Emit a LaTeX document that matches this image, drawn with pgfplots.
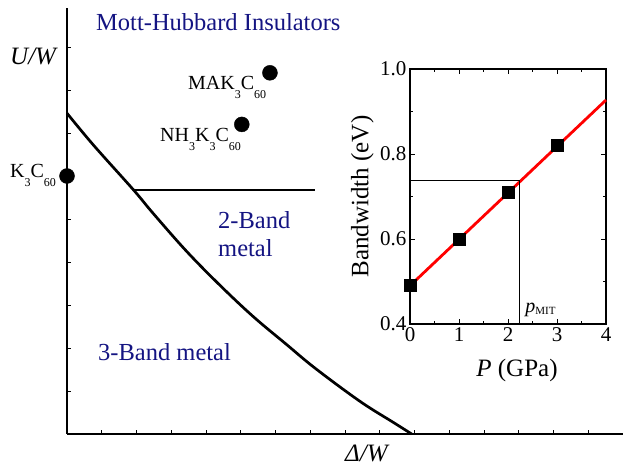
\documentclass[border=0pt]{standalone}
\usepackage{fontspec}
\setmainfont{Liberation Serif}
\usepackage{pgfplots}
\pgfplotsset{compat=1.18}
\definecolor{navyblue}{RGB}{20,20,130}
\newcommand{\ssub}[1]{\raisebox{-8.5pt}{\fontsize{12}{12}\selectfont #1}}
\begin{document}
\begin{tikzpicture}[x=1pt,y=1pt]
\useasboundingbox (0,0) rectangle (623,468);
\begin{axis}[at={(67pt,34pt)}, anchor=south west, scale only axis,
  width=556pt, height=426pt,
  xmin=0, xmax=16, ymin=0, ymax=9.907,
  axis x line*=bottom, axis y line*=left,
  xtick={0,...,16}, ytick={0,...,9},
  xticklabels={}, yticklabels={},
  tick align=inside, major tick length=3.5pt,
  tick style={line width=0.7pt, black},
  axis line style={line width=1.6pt, -},
  clip=false]
\addplot[line width=2.7pt, smooth, tension=0.6] coordinates {
 (0,7.46) (0.76,6.72) (1.91,5.68) (2.48,5.13) (3.44,4.25) (4.40,3.46)
 (5.36,2.73) (6.32,2.08) (7.14,1.53) (8.43,0.76) (9.39,0.27) (9.92,0)};
\addplot[line width=2.5pt] coordinates {(1.91,5.68) (7.14,5.68)};
\addplot[only marks, mark=*, mark size=7.5pt, black] coordinates {(0,6.0) (5.03,7.20) (5.84,8.40)};
\end{axis}
\begin{axis}[at={(410pt,144pt)}, anchor=south west, scale only axis,
  width=196pt, height=255pt,
  xmin=0, xmax=4, ymin=0.4, ymax=1.0,
  xtick={0,...,4}, ytick={0.4,0.6,0.8,1.0},
  minor x tick num=1, minor y tick num=1,
  tick align=inside, major tick length=5pt, minor tick length=3pt,
  axis line style={line width=1.5pt},
  tick style={line width=0.9pt, black},
  ticklabel style={font=\fontsize{21}{21}\selectfont},
  /pgf/number format/assume math mode=true,
  yticklabel style={/pgf/number format/.cd, fixed, fixed zerofill, precision=1},
  xlabel={\textit{P} (GPa)}, ylabel={Bandwidth (eV)},
  every axis x label/.style={at={(axis description cs:0.5,0)}, anchor=north, yshift=-35pt, xshift=9pt, inner sep=0pt, font=\fontsize{25}{25}\selectfont},
  every axis y label/.style={at={(axis description cs:-0.184,0.5)}, rotate=90, anchor=south, inner sep=0pt, font=\fontsize{25}{25}\selectfont},
  clip=false]
\addplot[only marks, mark=square*, mark size=6pt, black] coordinates {(0,0.492) (1,0.600) (2,0.711) (3,0.821)};
\addplot[red, line width=2.8pt] coordinates {(0,0.49) (4,0.927)};
\addplot[black, line width=1.4pt] coordinates {(0,0.737) (2.24,0.737)};
\addplot[black, line width=1.4pt] coordinates {(2.24,0.4) (2.24,0.737)};
\node[anchor=base west, inner sep=0pt] at (axis cs:2.35,0.426) {\fontsize{20}{20}\selectfont\textit{p}\raisebox{-2pt}{\fontsize{11}{11}\selectfont MIT}};
\end{axis}
\begin{scope}[every node/.style={inner sep=0pt}]
\node[anchor=base west, font=\fontsize{24.5}{24.5}\selectfont, text=navyblue] at (96,437) {Mott-Hubbard Insulators};
\node[anchor=base west, font=\fontsize{24.5}{24.5}\selectfont, text=navyblue] at (218,239) {2-Band};
\node[anchor=base west, font=\fontsize{24.5}{24.5}\selectfont, text=navyblue] at (218,211) {metal};
\node[anchor=base west, font=\fontsize{24.5}{24.5}\selectfont, text=navyblue] at (98,107.5) {3-Band metal};
\node[anchor=base west, font=\fontsize{25}{25}\selectfont\itshape] at (10,403) {U/W};
\node[anchor=base west, font=\fontsize{25}{25}\selectfont\itshape] at (345,6) {Δ/W};
\node[anchor=base west, font=\fontsize{20}{20}\selectfont] at (188,378) {MAK\ssub{3}C\ssub{60}};
\node[anchor=base west, font=\fontsize{20}{20}\selectfont] at (160,326.3) {NH\ssub{3}K\ssub{3}C\ssub{60}};
\node[anchor=base west, font=\fontsize{20}{20}\selectfont] at (10,290) {K\ssub{3}C\ssub{60}};
\end{scope}
\end{tikzpicture}
\end{document}
